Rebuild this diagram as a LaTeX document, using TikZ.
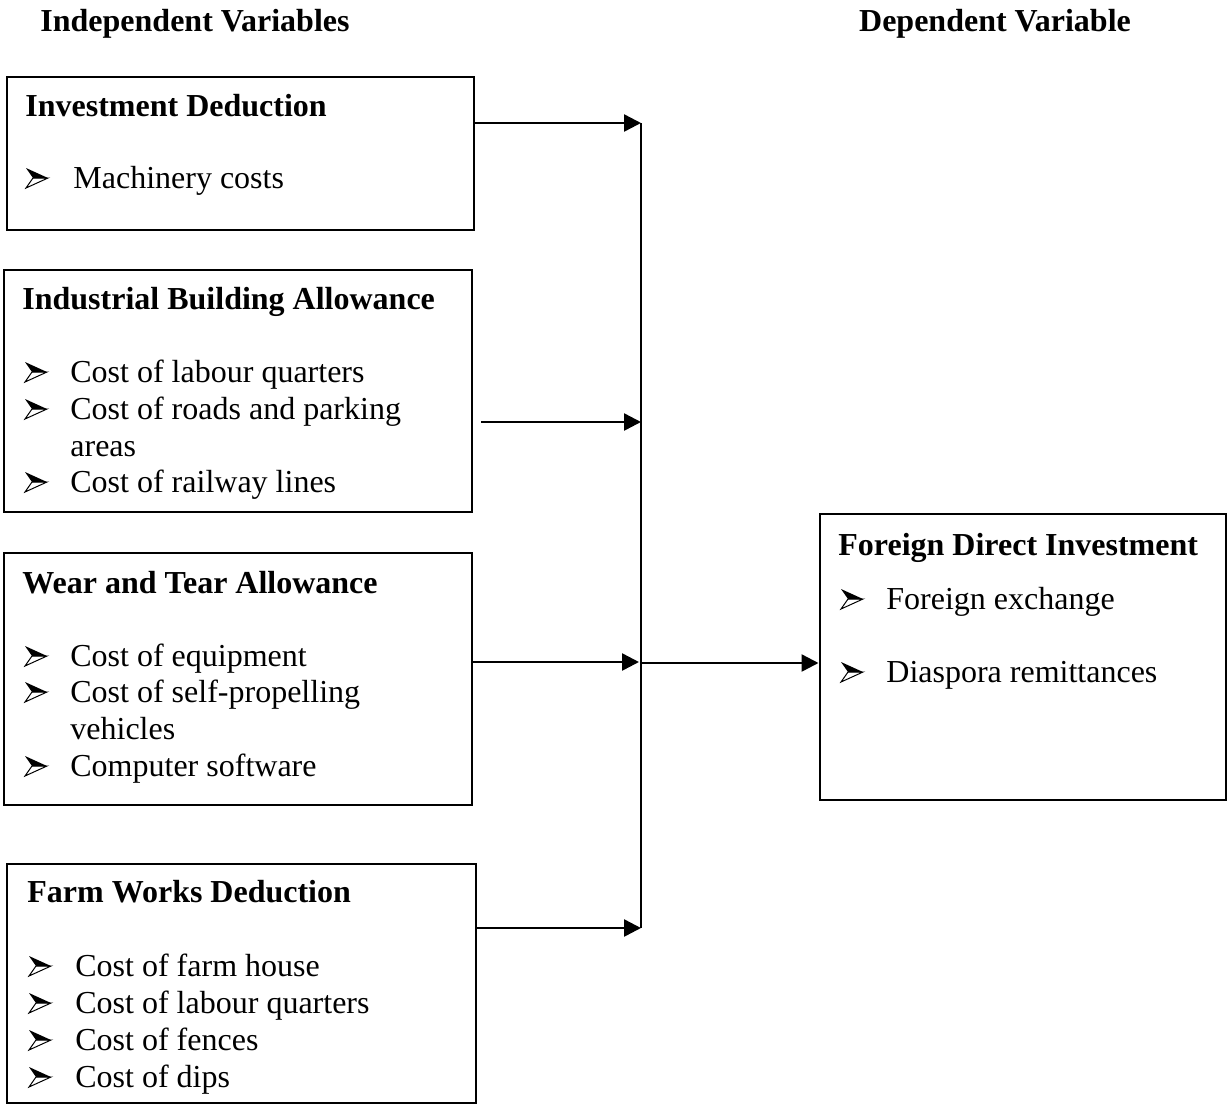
\documentclass[tikz,border=0pt]{standalone}
\usepackage{fontspec}
\setmainfont{Liberation Serif}
\usetikzlibrary{arrows.meta}
\begin{document}
\begin{tikzpicture}[x=0.5pt,y=-0.5pt,
  box/.style={draw,line width=1.25pt,anchor=north west,inner sep=0pt},
  txt/.style={anchor=base west,inner sep=0pt,font=\fontsize{16pt}{18.5pt}\selectfont},
  hd/.style={txt,font=\fontsize{16pt}{18.5pt}\selectfont\bfseries},
  arr/.style={line width=1.25pt,-{Triangle[length=8.5pt,width=8.5pt]}},
  vline/.style={line width=1pt},
  bult/.pic={
    \fill[black] (0,-10) -- (22,0) -- (7,0) -- cycle;
    \draw[black,line width=0.5pt,line join=miter] (7,0) -- (22,0) -- (0,10) -- cycle;
  }]
\useasboundingbox (0,0) rectangle (1227,1104);
% headers
\node[hd,anchor=base] (hind) at (195,31) {Independent Variables};
\node[hd,anchor=base] (hdep) at (995,31) {Dependent Variable};
% boxes
\node[box,minimum width=233.5pt,minimum height=76.5pt] (b1) at (5.5,75.5) {};
\node[box,minimum width=234pt,minimum height=121pt] (b2) at (2.5,268.5) {};
\node[box,minimum width=234pt,minimum height=126pt] (b3) at (2.5,551.5) {};
\node[box,minimum width=234.5pt,minimum height=119.5pt] (b4) at (5.5,862.5) {};
\node[box,minimum width=203pt,minimum height=143pt] (fdi) at (818.5,512.5) {};
% box 1
\node[hd] (t1) at (25,116) {Investment Deduction};
\pic at (26,178) {bult};
\node[txt] (i11) at (73,188) {Machinery costs};
% box 2
\node[hd] (t2) at (22,309) {Industrial Building Allowance};
\pic at (25,372) {bult};
\node[txt] (i21) at (70,382) {Cost of labour quarters};
\pic at (25,409) {bult};
\node[txt] (i22) at (70,419) {Cost of roads and parking};
\node[txt] (i23) at (70,456) {areas};
\pic at (25,482) {bult};
\node[txt] (i24) at (70,492) {Cost of railway lines};
% box 3
\node[hd] (t3) at (22,593) {Wear and Tear Allowance};
\pic at (25,656) {bult};
\node[txt] (i31) at (70,666) {Cost of equipment};
\pic at (25,692) {bult};
\node[txt] (i32) at (70,702) {Cost of self-propelling};
\node[txt] (i33) at (70,739) {vehicles};
\pic at (25,766) {bult};
\node[txt] (i34) at (70,776) {Computer software};
% box 4
\node[hd] (t4) at (27,902) {Farm Works Deduction};
\pic at (29,966) {bult};
\node[txt] (i41) at (75,976) {Cost of farm house};
\pic at (29,1003) {bult};
\node[txt] (i42) at (75,1013) {Cost of labour quarters};
\pic at (29,1040) {bult};
\node[txt] (i43) at (75,1050) {Cost of fences};
\pic at (29,1077) {bult};
\node[txt] (i44) at (75,1087) {Cost of dips};
% FDI box
\node[hd] (t5) at (838,555) {Foreign Direct Investment};
\pic at (841,599) {bult};
\node[txt] (i51) at (886,609) {Foreign exchange};
\pic at (841,672) {bult};
\node[txt] (i52) at (886,682) {Diaspora remittances};
% junction points
\coordinate (j1) at (641,123);
\coordinate (j2) at (641,422);
\coordinate (j3) at (639,662);
\coordinate (jm) at (641,663);
\coordinate (j4) at (641,928);
% connectors
\draw[vline] (j1) -- (j4);
\draw[arr] (b1.east |- j1) -- (j1);
\draw[arr] ([xshift=4pt]b2.east |- j2) -- (j2);
\draw[arr] (b3.east |- j3) -- (j3);
\draw[arr] (b4.east |- j4) -- (j4);
\draw[arr] (jm) -- (fdi.west |- jm);
\end{tikzpicture}
\end{document}
